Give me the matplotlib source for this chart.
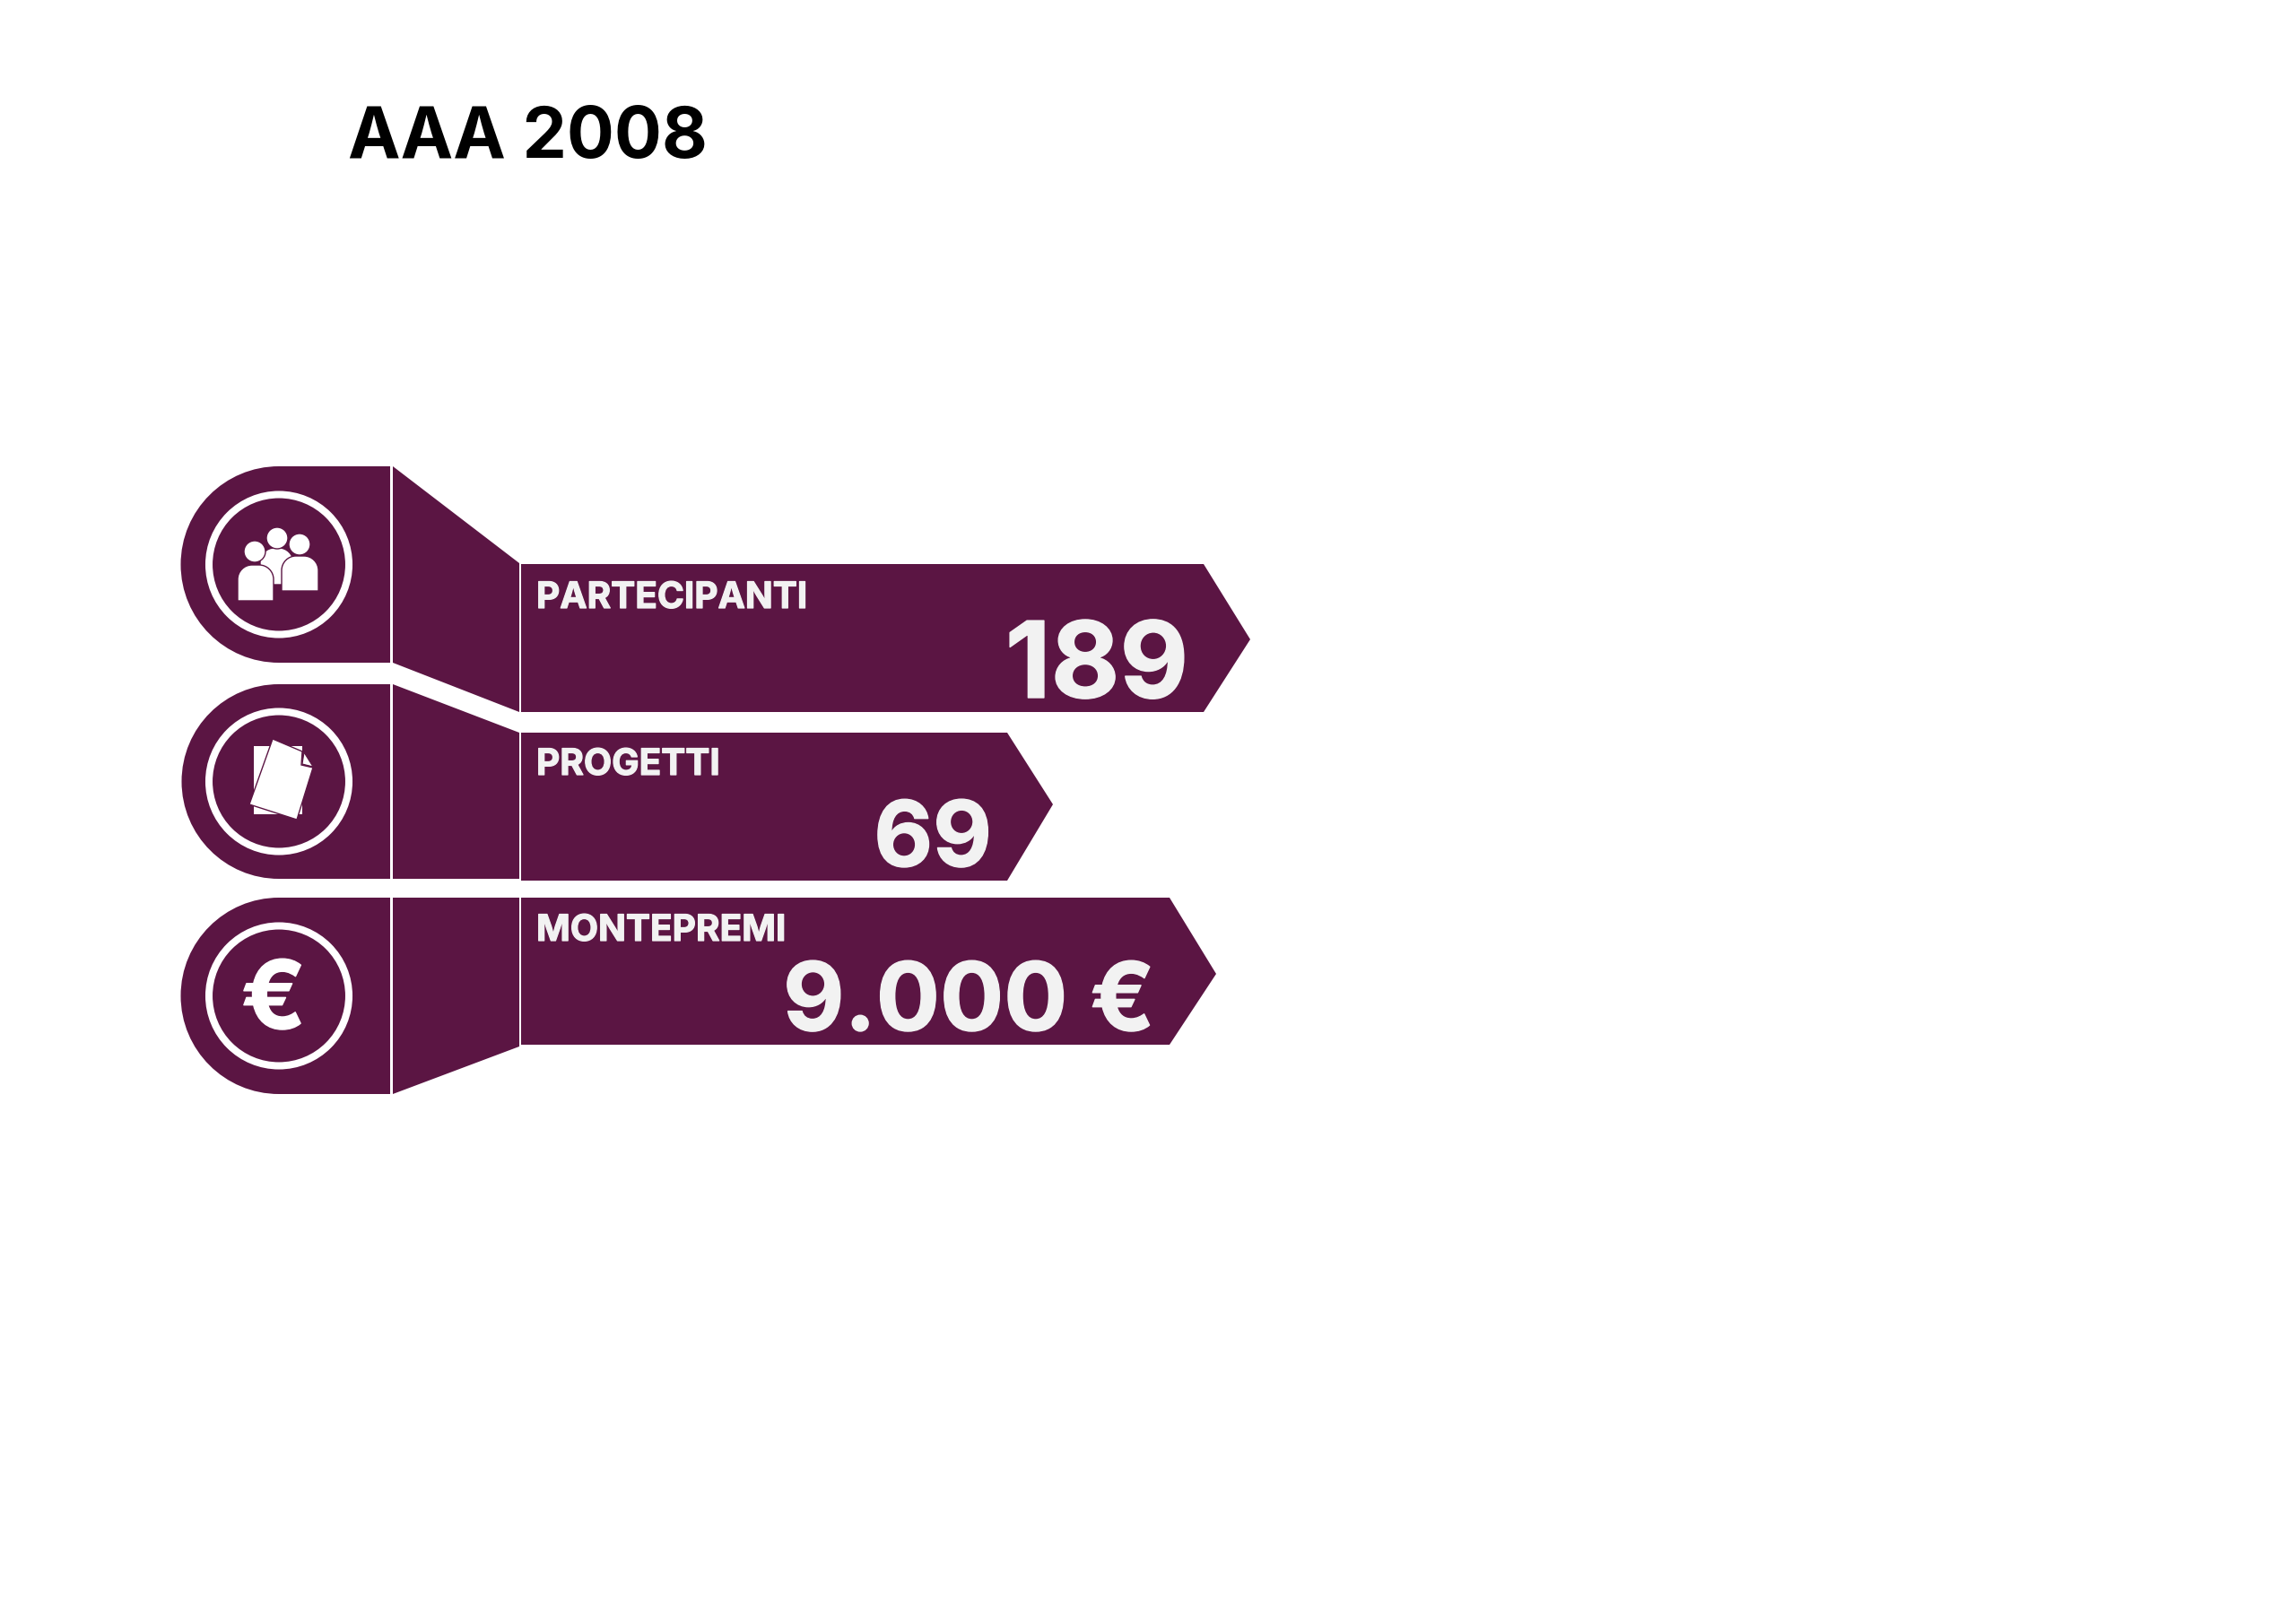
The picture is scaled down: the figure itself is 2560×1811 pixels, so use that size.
import matplotlib
matplotlib.use("Agg")
import matplotlib.pyplot as plt
import matplotlib.patheffects as pe
from matplotlib.patches import Circle, Polygon, PathPatch
from matplotlib.path import Path

# ---- content ----
title = "AAA 2008"
categories = ["PARTECIPANTI", "PROGETTI", "MONTEPREMI"]
value_labels = ["189", "69", "9.000 €"]

# ---- layout (pixels) ----
W, H = 2560, 1811
PURPLE = "#5B1543"
LIGHT = "#F2F2F2"
FONT = "Inter"

tab_top = [520, 763, 1001]
tab_bottom = [739, 980, 1220]
tab_left_cx = 311
tab_right = 435
conn_left = 438
conn_right = 579
conn_right_top = [628, 817, 1001]
conn_right_bottom = [794, 980, 1167]
arrow_left = 581
arrow_top = [629, 817, 1001]
arrow_bottom = [794, 982, 1165]
arrow_shoulder = [1342, 1123, 1304]
arrow_tip = [1394, 1174, 1356]
arrow_tip_y = [713, 897, 1086]
label_base = [678, 864, 1049]
value_right = [1325, 1106, 1288]
value_base = [778, 966, 1149]
value_size = [85, 73, 76]

fig = plt.figure(figsize=(W / 100, H / 100), dpi=100, facecolor="white")
ax = fig.add_axes([0, 0, 1, 1])
ax.set_xlim(0, W)
ax.set_ylim(H, 0)
ax.axis("off")


def rounded_top(x0, x1, ytop, ybot, r):
    k = 0.55 * r
    verts = [(x0, ybot), (x0, ytop + r),
             (x0, ytop + r - k), (x0 + r - k, ytop), (x0 + r, ytop),
             (x1 - r, ytop),
             (x1 - r + k, ytop), (x1, ytop + r - k), (x1, ytop + r),
             (x1, ybot), (x0, ybot)]
    codes = [Path.MOVETO, Path.LINETO, Path.CURVE4, Path.CURVE4, Path.CURVE4,
             Path.LINETO, Path.CURVE4, Path.CURVE4, Path.CURVE4,
             Path.LINETO, Path.CLOSEPOLY]
    return PathPatch(Path(verts, codes), fc="white", ec=PURPLE, lw=1.0, zorder=5)


def tab_patch(top, bottom):
    r = (bottom - top) / 2
    k = 0.5523 * r
    cy = (top + bottom) / 2
    cx = tab_left_cx
    verts = [(tab_right, top), (cx, top),
             (cx - k, top), (cx - r, cy - k), (cx - r, cy),
             (cx - r, cy + k), (cx - k, bottom), (cx, bottom),
             (tab_right, bottom), (tab_right, top)]
    codes = [Path.MOVETO, Path.LINETO, Path.CURVE4, Path.CURVE4, Path.CURVE4,
             Path.CURVE4, Path.CURVE4, Path.CURVE4, Path.LINETO, Path.CLOSEPOLY]
    return PathPatch(Path(verts, codes), fc=PURPLE, ec="none", zorder=2)


for i, cat in enumerate(categories):
    ax.add_patch(tab_patch(tab_top[i], tab_bottom[i]))
    ax.add_patch(Polygon([(conn_left, tab_top[i]), (conn_right, conn_right_top[i]),
                          (conn_right, conn_right_bottom[i]), (conn_left, tab_bottom[i])],
                         closed=True, fc=PURPLE, ec="none", zorder=2))
    ax.add_patch(Polygon([(arrow_left, arrow_top[i]), (arrow_shoulder[i], arrow_top[i]),
                          (arrow_tip[i], arrow_tip_y[i]), (arrow_shoulder[i], arrow_bottom[i]),
                          (arrow_left, arrow_bottom[i])],
                         closed=True, fc=PURPLE, ec="none", zorder=2))
    cy = (tab_top[i] + tab_bottom[i]) / 2
    ax.add_patch(Circle((tab_left_cx, cy), 78, fc="none", ec="white", lw=5.8, zorder=3))
    ax.text(598, label_base[i], cat, color=LIGHT, family=FONT, weight="bold",
            fontsize=29.2, ha="left", va="baseline", zorder=6,
            path_effects=[pe.withStroke(linewidth=0.9, foreground=LIGHT)])
    ax.text(value_right[i], value_base[i], value_labels[i], color=LIGHT, family=FONT,
            weight="bold", fontsize=value_size[i], ha="right", va="baseline", zorder=6,
            path_effects=[pe.withStroke(linewidth=1.0, foreground=LIGHT)])

# title
ax.text(388, 176, title, color="black", family=FONT, weight="bold",
        fontsize=56.5, ha="left", va="baseline")

# people icon
ax.add_patch(rounded_top(290, 327, 611, 652, 16))
ax.add_patch(Circle((309, 600), 12, fc="white", ec=PURPLE, lw=1.0, zorder=6))
ax.add_patch(rounded_top(314, 355, 620, 659, 16))
ax.add_patch(Circle((334, 607), 12, fc="white", ec=PURPLE, lw=1.0, zorder=6))
ax.add_patch(rounded_top(265, 305, 630, 670, 16))
ax.add_patch(Circle((284, 615), 12, fc="white", ec=PURPLE, lw=1.0, zorder=6))

# document icon
ax.add_patch(Polygon([(283, 832), (337, 832), (337, 908), (283, 908)],
                     closed=True, fc="white", ec="none", zorder=5))
ax.add_patch(Polygon([(304, 824), (337, 838), (336, 853), (349, 856), (331, 914), (278, 897)],
                     closed=True, fc="white", ec=PURPLE, lw=1.0, zorder=6))
ax.add_patch(Polygon([(339, 839), (349, 855), (337, 852)],
                     closed=True, fc="white", ec=PURPLE, lw=0.8, zorder=6))

# euro icon
ax.text(305, 1147, "€", color="white", family=FONT, weight="bold",
        fontsize=76, ha="center", va="baseline", zorder=6,
        path_effects=[pe.withStroke(linewidth=1.0, foreground="white")])

fig.savefig("out.png", dpi=100, facecolor="white")
